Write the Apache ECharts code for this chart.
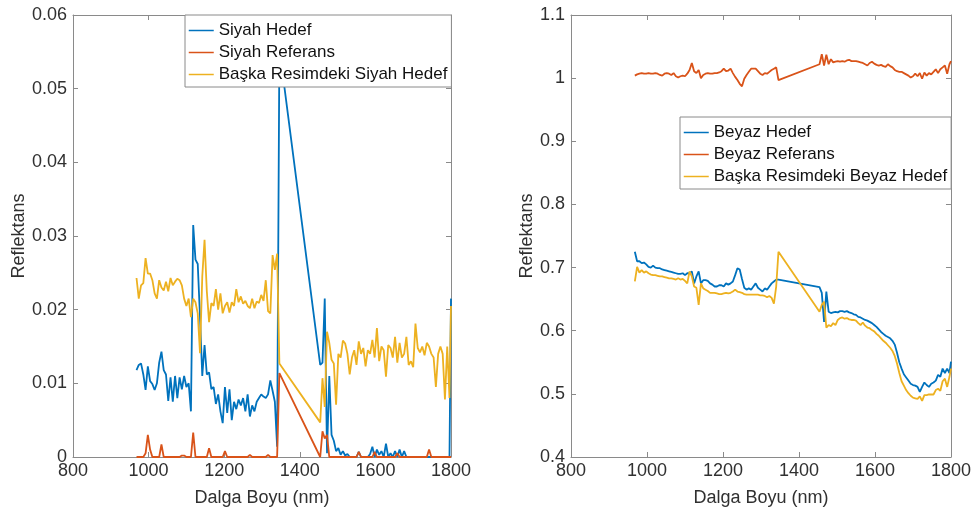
<!DOCTYPE html>
<html>
<head>
<meta charset="utf-8">
<script src="https://cdn.jsdelivr.net/npm/echarts@6/dist/echarts.min.js"></script>
<style>html,body{margin:0;padding:0;background:#fff}#c{width:974px;height:514px}</style>
</head>
<body>
<div id="c"></div>
<script>
// Wavelengths (nm)
const wavelengths = [
968,974,980,986,992,998,1004,1010,
1016,1022,1028,1034,1040,1046,1052,1058,
1064,1070,1076,1082,1088,1094,1100,1106,
1112,1118,1124,1130,1136,1142,1148,1154,
1160,1166,1172,1178,1184,1190,1196,1202,
1208,1214,1220,1226,1232,1238,1244,1250,
1256,1262,1268,1274,1280,1286,1292,1298,
1304,1310,1316,1322,1328,1334,1340,1346,
1454,1460,1466,1472,1478,1484,1490,1496,
1502,1508,1514,1520,1526,1532,1538,1544,
1550,1556,1562,1568,1574,1580,1586,1592,
1598,1604,1610,1616,1622,1628,1634,1640,
1646,1652,1658,1664,1670,1676,1682,1688,
1694,1700,1706,1712,1718,1724,1730,1736,
1742,1748,1754,1760,1766,1772,1778,1784,
1790,1796,1800
];

const xTicks = [800, 1000, 1200, 1400, 1600, 1800];
const yTicksLeft = [0, 0.01, 0.02, 0.03, 0.04, 0.05, 0.06];
const yTicksRight = [0.4, 0.5, 0.6, 0.7, 0.8, 0.9, 1, 1.1];

const namesLeft = ['Siyah Hedef', 'Siyah Referans', 'Başka Resimdeki Siyah Hedef'];
const namesRight = ['Beyaz Hedef', 'Beyaz Referans', 'Başka Resimdeki Beyaz Hedef'];

const siyahHedef = [
0.0118,0.0125,0.0127,0.0112,0.0091,0.0123,0.0103,0.0099,
0.0091,0.0100,0.0128,0.0143,0.0118,0.0112,0.0076,0.0108,
0.0075,0.0110,0.0080,0.0108,0.0092,0.0110,0.0095,0.0100,
0.0062,0.0315,0.0268,0.0262,0.0190,0.0110,0.0152,0.0112,
0.0115,0.0092,0.0095,0.0072,0.0085,0.0062,0.0046,0.0095,
0.0060,0.0092,0.0050,0.0075,0.0065,0.0078,0.0070,0.0080,
0.0062,0.0085,0.0055,0.0070,0.0062,0.0075,0.0080,0.0085,
0.0082,0.0080,0.0085,0.0104,0.0090,0.0075,0.0014,0.0555,
0.0125,0.0128,0.0215,0.0005,0.0110,0.0030,0.0022,0.0008,
0.0012,0.0003,0.0008,0.0002,0.0004,0,0,0,
0,0.0007,0,0,0,0,0.0004,0.0014,
0,0.0010,0.0003,0.0008,0,0.0018,0,0.0005,
0,0.0008,0,0.0010,0,0.0008,0,0,
0,0,0,0,0,0,0,0,
0,0,0,0,0,0,0,0,
0,0,0.0215
];

const siyahReferans = [
0,0,0,0,0.0005,0.0030,0.0010,0,
0,0,0,0.0017,0,0,0,0,
0,0,0,0,0.0002,0.0002,0,0,
0,0.0033,0,0,0,0,0,0,
0.0012,0,0,0,0,0,0,0.0008,
0,0,0,0,0,0,0,0,
0,0,0.0003,0,0,0,0,0,
0,0,0.0003,0,0,0,0,0.0114,
0,0.0035,0.0025,0.0030,0,0,0,0,
0,0,0,0,0,0,0,0,
0,0.0007,0,0,0,0,0,0,
0.0007,0,0,0,0,0,0,0,
0,0,0.0005,0,0,0,0,0,
0,0,0,0,0,0,0,0,
0.0010,0,0,0,0,0,0,0,
0,0,0
];

const siyahBaska = [
0.0243,0.0215,0.0233,0.0236,0.0270,0.0249,0.0249,0.0240,
0.0222,0.0215,0.0240,0.0230,0.0226,0.0238,0.0225,0.0243,
0.0233,0.0238,0.0242,0.0240,0.0233,0.0215,0.0205,0.0215,
0.0190,0.0215,0.0210,0.0195,0.0141,0.0245,0.0295,0.0225,
0.0183,0.0209,0.0205,0.0228,0.0200,0.0222,0.0195,0.0205,
0.0210,0.0196,0.0210,0.0205,0.0228,0.0210,0.0218,0.0208,
0.0212,0.0205,0.0202,0.0215,0.0202,0.0211,0.0209,0.0220,
0.0212,0.0240,0.0198,0.0195,0.0274,0.0254,0.0276,0.0127,
0.0047,0.0107,0.0068,0.0170,0.0155,0.0132,0.0127,0.0071,
0.0140,0.0135,0.0158,0.0154,0.0140,0.0112,0.0135,0.0145,
0.0125,0.0157,0.0140,0.0148,0.0123,0.0145,0.0140,0.0159,
0.0135,0.0175,0.0130,0.0150,0.0145,0.0109,0.0152,0.0148,
0.0135,0.0163,0.0128,0.0155,0.0135,0.0140,0.0163,0.0125,
0.0130,0.0122,0.0181,0.0148,0.0142,0.0150,0.0138,0.0155,
0.0150,0.0140,0.0135,0.0095,0.0140,0.0150,0.0140,0.0078,
0.0150,0.0080,0.0205
];

const beyazHedef = [
0.725,0.710,0.710,0.707,0.708,0.705,0.701,0.700,
0.703,0.700,0.699,0.699,0.697,0.696,0.695,0.694,
0.693,0.692,0.691,0.690,0.690,0.691,0.688,0.691,
0.691,0.694,0.675,0.686,0.694,0.675,0.680,0.680,
0.679,0.675,0.673,0.670,0.670,0.672,0.672,0.670,
0.675,0.673,0.675,0.678,0.688,0.699,0.697,0.682,
0.668,0.665,0.667,0.665,0.670,0.675,0.668,0.665,
0.662,0.667,0.665,0.670,0.675,0.678,0.681,0.681,
0.669,0.660,0.614,0.662,0.630,0.628,0.629,0.630,
0.629,0.631,0.631,0.630,0.631,0.629,0.628,0.626,
0.625,0.622,0.621,0.619,0.617,0.616,0.614,0.612,
0.609,0.606,0.602,0.598,0.595,0.592,0.590,0.588,
0.584,0.578,0.565,0.550,0.540,0.531,0.526,0.521,
0.516,0.514,0.513,0.511,0.503,0.511,0.518,0.514,
0.511,0.516,0.518,0.521,0.530,0.527,0.540,0.533,
0.540,0.533,0.551
];

const beyazReferans = [
1.004,1.006,1.007,1.008,1.007,1.007,1.008,1.007,
1.007,1.008,1.007,1.005,1.004,1.007,1.008,1.007,
1.005,1.008,1.003,1.001,1.003,1.004,1.003,1.007,
1.013,1.024,1.011,1.008,1.013,1.000,1.005,1.007,
1.008,1.007,1.007,1.008,1.008,1.009,1.011,1.015,
1.011,1.012,1.015,1.008,1.002,0.997,0.991,0.987,
0.999,1.005,1.010,1.015,1.015,1.015,1.011,1.007,
1.005,1.008,1.007,1.010,1.013,1.015,1.017,0.997,
1.022,1.038,1.020,1.037,1.022,1.030,1.025,1.026,
1.027,1.026,1.027,1.026,1.028,1.029,1.027,1.027,
1.027,1.026,1.025,1.024,1.022,1.020,1.024,1.026,
1.023,1.021,1.020,1.021,1.019,1.018,1.022,1.019,
1.017,1.013,1.011,1.010,1.010,1.008,1.006,1.004,
1.001,1.003,1.007,1.003,1.008,0.999,1.009,1.004,
1.008,1.006,1.010,1.014,1.008,1.014,1.017,1.020,
1.007,1.022,1.027
];

const beyazBaska = [
0.678,0.701,0.692,0.696,0.692,0.694,0.691,0.689,
0.688,0.688,0.687,0.686,0.686,0.685,0.684,0.683,
0.683,0.682,0.681,0.683,0.681,0.682,0.679,0.675,
0.694,0.686,0.670,0.668,0.641,0.675,0.667,0.665,
0.663,0.660,0.660,0.660,0.659,0.658,0.658,0.659,
0.660,0.659,0.660,0.662,0.665,0.662,0.661,0.660,
0.658,0.657,0.657,0.657,0.657,0.657,0.657,0.656,
0.656,0.655,0.653,0.655,0.652,0.643,0.670,0.725,
0.630,0.641,0.646,0.605,0.609,0.607,0.612,0.609,
0.617,0.620,0.621,0.619,0.620,0.618,0.617,0.617,
0.616,0.612,0.609,0.613,0.608,0.605,0.604,0.601,
0.599,0.595,0.592,0.588,0.584,0.581,0.577,0.573,
0.568,0.560,0.548,0.533,0.520,0.513,0.506,0.501,
0.497,0.494,0.493,0.492,0.496,0.489,0.498,0.498,
0.499,0.499,0.499,0.506,0.508,0.505,0.520,0.524,
0.511,0.527,0.540
];

[siyahHedef, siyahReferans, siyahBaska, beyazHedef, beyazReferans, beyazBaska].forEach((a, i) => {
  if (a.length !== wavelengths.length) throw new Error('length mismatch in series ' + i + ': ' + a.length);
});

const C_BLUE = '#0072BD', C_RED = '#D95319', C_YEL = '#EDB120';
const AX = '#8a8a8a', TXT = '#303030', FONT = 'Liberation Sans, Arial, Helvetica, sans-serif';

function pairs(vals) { return wavelengths.map((w, i) => [w, vals[i]]); }

function xAxisCfg(grid, pos) {
  const bottom = pos === 'bottom';
  return {
    type: 'value', gridIndex: grid, position: pos,
    min: xTicks[0], max: xTicks[xTicks.length - 1], interval: xTicks[1] - xTicks[0],
    axisLine: { show: true, onZero: false, lineStyle: { color: AX, width: 1 } },
    axisTick: { show: true, inside: true, length: 5, lineStyle: { color: AX } },
    axisLabel: { show: bottom, color: TXT, fontSize: 18, fontFamily: FONT, margin: 5,
      formatter: v => String(v) },
    splitLine: { show: false },
    name: bottom ? 'Dalga Boyu (nm)' : '', nameLocation: 'middle', nameGap: 32,
    nameTextStyle: { color: TXT, fontSize: 18, fontFamily: FONT }
  };
}
function yAxisCfg(grid, pos, ticks, gap) {
  const left = pos === 'left';
  const step = Math.round((ticks[1] - ticks[0]) * 100) / 100;
  return {
    type: 'value', gridIndex: grid, position: pos,
    min: ticks[0], max: ticks[ticks.length - 1], interval: step,
    axisLine: { show: true, onZero: false, lineStyle: { color: AX, width: 1 } },
    axisTick: { show: true, inside: true, length: 5, lineStyle: { color: AX } },
    axisLabel: { show: left, color: TXT, fontSize: 18, fontFamily: FONT, margin: 6,
      formatter: v => String(Math.round(v * 1000) / 1000) },
    splitLine: { show: false },
    name: left ? 'Reflektans' : '', nameLocation: 'middle', nameGap: gap,
    nameTextStyle: { color: TXT, fontSize: 18, fontFamily: FONT }
  };
}
function lineSeries(name, color, vals, xi, yi) {
  return {
    name, type: 'line', xAxisIndex: xi, yAxisIndex: yi, data: pairs(vals),
    symbol: 'none', showSymbol: false, clip: true,
    lineStyle: { color, width: 1.8 }, itemStyle: { color }, z: 3
  };
}
function legendCfg(names, left, top) {
  return {
    data: names, orient: 'vertical', left, top,
    backgroundColor: '#fff', borderColor: '#8a8a8a', borderWidth: 1, borderRadius: 0,
    padding: [7, 4, 4, 3], itemGap: 5, itemWidth: 25, itemHeight: 10,
    itemStyle: { opacity: 0 },
    lineStyle: { width: 1.5 },
    textStyle: { color: '#111', fontSize: 17, fontFamily: FONT, lineHeight: 17 },
    selectedMode: false, z: 10
  };
}

const chart = echarts.init(document.getElementById('c'), null, { renderer: 'canvas' });
chart.setOption({
  animation: false,
  backgroundColor: '#fff',
  grid: [
    { left: 73, top: 15, width: 378, height: 442 },
    { left: 571, top: 15, width: 380, height: 442 }
  ],
  xAxis: [xAxisCfg(0, 'bottom'), xAxisCfg(0, 'top'), xAxisCfg(1, 'bottom'), xAxisCfg(1, 'top')],
  yAxis: [yAxisCfg(0, 'left', yTicksLeft, 42), yAxisCfg(0, 'right', yTicksLeft, 0),
          yAxisCfg(1, 'left', yTicksRight, 32), yAxisCfg(1, 'right', yTicksRight, 0)],
  legend: [legendCfg(namesLeft, 185, 15), legendCfg(namesRight, 680, 117)],
  series: [
    lineSeries(namesLeft[0], C_BLUE, siyahHedef, 0, 0),
    lineSeries(namesLeft[1], C_RED, siyahReferans, 0, 0),
    lineSeries(namesLeft[2], C_YEL, siyahBaska, 0, 0),
    lineSeries(namesRight[0], C_BLUE, beyazHedef, 2, 2),
    lineSeries(namesRight[1], C_RED, beyazReferans, 2, 2),
    lineSeries(namesRight[2], C_YEL, beyazBaska, 2, 2)
  ]
});
</script>
</body>
</html>
